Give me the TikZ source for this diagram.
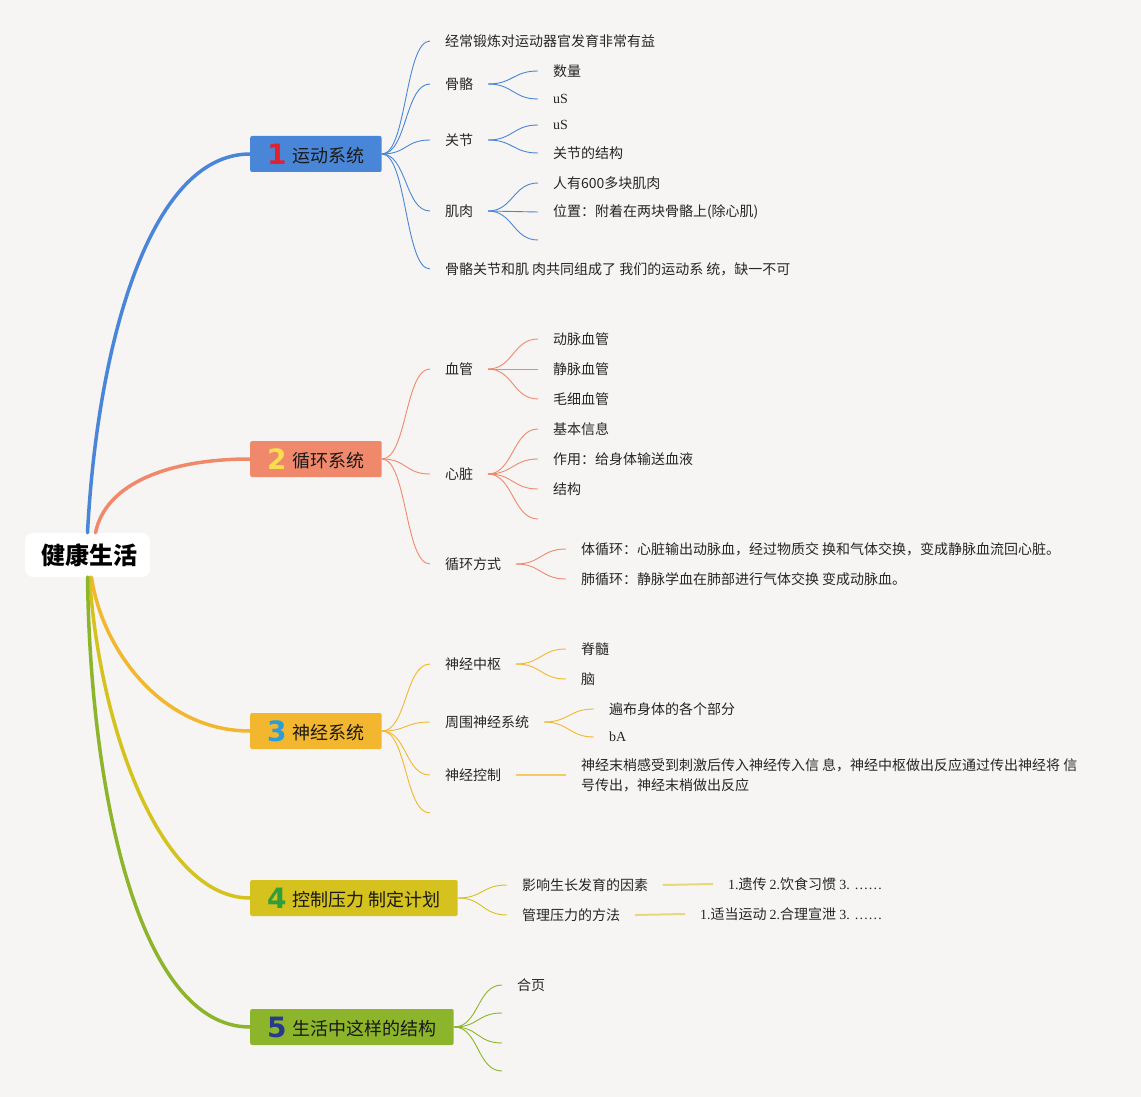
\documentclass[tikz,border=0pt]{standalone}
\usepackage{fontspec}
\setmainfont{Liberation Serif}
\newfontfamily\cjk{Noto Sans CJK SC}
\newfontfamily\numfont{DejaVu Sans}

\definecolor{bgcol}{HTML}{F6F5F3}
\definecolor{blu}{HTML}{4A86D8}
\definecolor{ora}{HTML}{F0896B}
\definecolor{yel}{HTML}{F2B72F}
\definecolor{oli}{HTML}{D5C21E}
\definecolor{grn}{HTML}{8DB52B}
\definecolor{numred}{HTML}{E3202D}
\definecolor{numyel}{HTML}{F7DF4E}
\definecolor{numblu}{HTML}{2A9ED9}
\definecolor{numgrn}{HTML}{2F9E3B}
\definecolor{numnav}{HTML}{283A8E}

\begin{document}
\begin{tikzpicture}[x=1pt,y=-1pt,
	root/.style={fill=white,rounded corners=8pt,minimum width=125pt,minimum height=44pt,inner sep=0pt,font=\cjk\bfseries\fontsize{24}{28}\selectfont},
	topic/.style={anchor=west,rounded corners=2pt,inner xsep=17pt,inner ysep=0pt,minimum height=36pt,font=\cjk\fontsize{18}{22}\selectfont,text=black!90},
	leaf/.style={anchor=west,inner sep=0pt,outer xsep=15pt,align=left,font=\cjk\fontsize{14}{20}\selectfont,text=black!85},
	trunk/.style={line width=3.5pt,line cap=round},
	twig/.style={line width=0.9pt}]
	
	\useasboundingbox (0,0) rectangle (1141,1097);
	\fill[bgcol] (0,0) rectangle (1141,1097);
	
	% root and topics
	\node[root] (root) at (87.5,555) {\hspace{3pt}健康生活};
	\node[topic,fill=blu] (t1) at (250,154) {{\numfont\bfseries\fontsize{28}{28}\selectfont\color{numred}1}\hspace{6pt}\raisebox{1.5pt}{运动系统}};
	\node[topic,fill=ora] (t2) at (250,459) {{\numfont\bfseries\fontsize{28}{28}\selectfont\color{numyel}2}\hspace{6pt}\raisebox{1.5pt}{循环系统}};
	\node[topic,fill=yel] (t3) at (250,731) {{\numfont\bfseries\fontsize{28}{28}\selectfont\color{numblu}3}\hspace{6pt}\raisebox{1.5pt}{神经系统}};
	\node[topic,fill=oli] (t4) at (250,898) {{\numfont\bfseries\fontsize{28}{28}\selectfont\color{numgrn}4}\hspace{6pt}\raisebox{1.5pt}{控制压力 制定计划}};
	\node[topic,fill=grn] (t5) at (250,1027) {{\numfont\bfseries\fontsize{28}{28}\selectfont\color{numnav}5}\hspace{6pt}\raisebox{1.5pt}{生活中这样的结构}};
	
	% branch 1
	\node[leaf] (a1) at (430,41)  {经常锻炼对运动器官发育非常有益};
	\node[leaf] (a2) at (430,84)  {骨骼};
	\node[leaf] (a3) at (430,140) {关节};
	\node[leaf] (a4) at (430,211) {肌肉};
	\node[leaf] (a5) at (430,269) {骨骼关节和肌 肉共同组成了 我们的运动系 统，缺一不可};
	\node[leaf] (a21) at (538,71)  {数量};
	\node[leaf] (a22) at (538,99)  {\rmfamily uS};
	\node[leaf] (a31) at (538,125) {\rmfamily uS};
	\node[leaf] (a32) at (538,153) {关节的结构};
	\node[leaf] (a41) at (538,183) {人有600多块肌肉};
	\node[leaf] (a42) at (538,212) {位置：附着在两块骨骼上(除心肌)};
	\node[leaf] (a43) at (538,240) {};
	
	% branch 2
	\node[leaf] (b1) at (430,369) {血管};
	\node[leaf] (b2) at (430,474) {心脏};
	\node[leaf] (b3) at (430,564) {循环方式};
	\node[leaf] (b11) at (538,339) {动脉血管};
	\node[leaf] (b12) at (538,369) {静脉血管};
	\node[leaf] (b13) at (538,399) {毛细血管};
	\node[leaf] (b21) at (538,429) {基本信息};
	\node[leaf] (b22) at (538,459) {作用：给身体输送血液};
	\node[leaf] (b23) at (538,489) {结构};
	\node[leaf] (b24) at (538,519) {};
	\node[leaf] (b31) at (566,549) {体循环：心脏输出动脉血，经过物质交 换和气体交换，变成静脉血流回心脏。};
	\node[leaf] (b32) at (566,579) {肺循环：静脉学血在肺部进行气体交换 变成动脉血。};
	
	% branch 3
	\node[leaf] (c1) at (430,664) {神经中枢};
	\node[leaf] (c2) at (430,722) {周围神经系统};
	\node[leaf] (c3) at (430,775) {神经控制};
	\node[leaf] (c4) at (430,813) {};
	\node[leaf] (c11) at (566,649) {脊髓};
	\node[leaf] (c12) at (566,679) {脑};
	\node[leaf] (c21) at (594,709) {遍布身体的各个部分};
	\node[leaf] (c22) at (594,737) {\rmfamily bA};
	\node[leaf] (c31) at (566,775) {神经末梢感受到刺激后传入神经传入信 息，神经中枢做出反应通过传出神经将 信\\号传出，神经末梢做出反应};
	
	% branch 4
	\node[leaf] (d1) at (507,885) {影响生长发育的因素};
	\node[leaf] (d2) at (507,915) {管理压力的方法};
	\node[leaf] (d11) at (713,884) {{\rmfamily 1.}遗传 {\rmfamily 2.}饮食习惯 {\rmfamily 3. ……}};
	\node[leaf] (d21) at (685,914) {{\rmfamily 1.}适当运动 {\rmfamily 2.}合理宣泄 {\rmfamily 3. ……}};
	
	% branch 5
	\node[leaf] (e1) at (502,985)  {合页};
	\node[leaf] (e2) at (502,1013) {};
	\node[leaf] (e3) at (502,1043) {};
	\node[leaf] (e4) at (502,1071) {};
	
	% trunks from the root
	\draw[trunk,blu] (root.north) .. controls +(10,-190) and +(-100,0) .. (t1.west);
	\draw[trunk,ora] ([xshift=8pt]root.north) .. controls +(10,-50) and +(-80,0) .. (t2.west);
	\draw[trunk,yel] ([xshift=4pt]root.south) .. controls +(10,70) and +(-90,0) .. (t3.west);
	\draw[trunk,oli] ([xshift=2pt]root.south) .. controls +(10,150) and +(-90,0) .. (t4.west);
	\draw[trunk,grn] ([xshift=0pt]root.south) .. controls +(3,220) and +(-110,0) .. (t5.west);
	
	% twigs
	\foreach \c in {a1,a2,a3,a4,a5}
		\draw[twig,blu] (t1.east) .. controls +(25,0) and +(-25,0) .. (\c.west);
	\foreach \c in {a21,a22}
		\draw[twig,blu] (a2.east) .. controls +(25,0) and +(-25,0) .. (\c.west);
	\foreach \c in {a31,a32}
		\draw[twig,blu] (a3.east) .. controls +(25,0) and +(-25,0) .. (\c.west);
	\foreach \c in {a41,a42,a43}
		\draw[twig,blu] (a4.east) .. controls +(25,0) and +(-25,0) .. (\c.west);
	
	\foreach \c in {b1,b2,b3}
		\draw[twig,ora] (t2.east) .. controls +(25,0) and +(-25,0) .. (\c.west);
	\foreach \c in {b11,b12,b13}
		\draw[twig,ora] (b1.east) .. controls +(25,0) and +(-25,0) .. (\c.west);
	\foreach \c in {b21,b22,b23,b24}
		\draw[twig,ora] (b2.east) .. controls +(25,0) and +(-25,0) .. (\c.west);
	\foreach \c in {b31,b32}
		\draw[twig,ora] (b3.east) .. controls +(25,0) and +(-25,0) .. (\c.west);
	
	\foreach \c in {c1,c2,c3,c4}
		\draw[twig,yel] (t3.east) .. controls +(25,0) and +(-25,0) .. (\c.west);
	\foreach \c in {c11,c12}
		\draw[twig,yel] (c1.east) .. controls +(25,0) and +(-25,0) .. (\c.west);
	\foreach \c in {c21,c22}
		\draw[twig,yel] (c2.east) .. controls +(25,0) and +(-25,0) .. (\c.west);
	\draw[line width=2pt,yel!75] (c3.east) -- (c31.west);
	
	\foreach \c in {d1,d2}
		\draw[twig,oli] (t4.east) .. controls +(25,0) and +(-25,0) .. (\c.west);
	\draw[line width=2pt,oli!60] (d1.east) -- (d11.west);
	\draw[line width=2pt,oli!60] (d2.east) -- (d21.west);
	
	\foreach \c in {e1,e2,e3,e4}
		\draw[twig,grn] (t5.east) .. controls +(25,0) and +(-25,0) .. (\c.west);
	
\end{tikzpicture}
\end{document}
